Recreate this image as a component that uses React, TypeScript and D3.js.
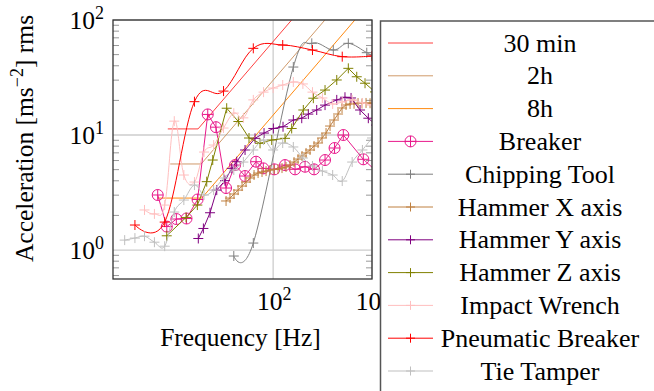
import React from 'react';
import * as d3 from 'd3';

// Plot frame (pixels)
const PL = 113, PR = 372, PT = 20, PB = 279;

// Exposure limit curves
const freq30min = [8.6, 17.4, 200];
const accel30min = [11.3, 11.3, 130];
const freq2h = [9.1, 18.7, 400];
const accel2h = [5.6, 5.6, 119.8];
const freq8h = [6.7, 19.0, 800];
const accel8h = [2.83, 2.83, 119.2];

// Measured tool spectra
const breakerFreq = [6.8, 8.4, 10.5, 13.3, 17.2, 21.8, 26.4, 33.4, 41.2, 52.0, 67.2, 79.6, 102.8, 131.9, 166.6, 210.3, 259.4, 335, 418, 513, 817, 1250];
const breakerAccel = [3.01, 1.6, 1.86, 1.88, 2.75, 15.1, 11.7, 3.46, 5.48, 4.4, 5.86, 5.13, 5.03, 5.48, 5.03, 5.3, 5.03, 6.06, 7.71, 10.0, 6.15, 4.4];

const chippingFreq = [40, 63, 160, 246, 406, 576, 885, 1100];
const chippingAccel = [0.887, 1.15, 39.0, 62.7, 54.8, 62.7, 52.0, 46.7];

const hammerXFreq = [33.4, 36.6, 40.2, 44.2, 48.5, 53.2, 58.4, 64.1, 70.4, 77.2, 84.8, 93.0, 102.1, 112.1, 123.0, 135.0, 148.2, 162.7, 178.6, 196.0, 215.2, 236.2, 259.3, 284.6, 312.4, 342.9, 376.4, 413.0, 453.5, 497.7, 546.3, 599.8, 658.1, 722.4, 793.0, 870.4, 955.4, 1048.6];
const hammerXAccel = [2.67, 2.83, 3.07, 3.32, 3.6, 3.9, 4.23, 4.49, 4.67, 4.77, 4.86, 4.96, 5.01, 5.06, 5.16, 5.27, 5.48, 5.82, 6.18, 6.57, 6.98, 7.41, 8.02, 8.52, 9.42, 10.41, 11.97, 13.5, 15.23, 17.17, 18.24, 18.61, 18.7, 18.98, 18.8, 19.0, 18.9, 18.98];

const hammerYFreq = [17.5, 19.7, 23.0, 26.9, 32.6, 38.1, 42.8, 52.0, 65.6, 80.9, 100.5, 125.9, 160.1, 194.7, 227, 276, 335, 440, 533, 614, 757, 918, 1099];
const hammerYAccel = [1.26, 1.54, 2.11, 3.32, 4.01, 5.13, 5.86, 7.41, 9.36, 10.4, 11.4, 11.8, 13.5, 14.0, 15.2, 16.5, 18.2, 20.2, 21.3, 21.0, 16.5, 14.0, 12.2];

const hammerZFreq = [8.39, 13.15, 17.12, 21.3, 24.5, 33.9, 44.5, 57.0, 73.7, 96.8, 132, 154, 202, 255, 335, 440, 576, 701, 850, 1073];
const hammerZAccel = [1.33, 1.92, 2.46, 3.93, 6.06, 17.1, 13.1, 9.42, 8.47, 9.05, 9.36, 11.4, 16.5, 20.9, 24.6, 30.1, 38.0, 32.1, 28.2, 23.7];

const impactFreq = [5, 6.3, 8, 10, 12.5, 16, 20, 25, 31.5, 40, 50, 63, 80, 100, 125, 160, 200, 250, 315, 400, 500, 630, 800, 1000];
const impactAccel = [2.23, 2.06, 2.46, 13.2, 4.49, 3.9, 7.11, 8.18, 11.5, 15.5, 14.1, 20.2, 23.6, 25.6, 27.2, 28.9, 27.8, 23.6, 21.0, 18.6, 19.4, 20.2, 19.0, 18.2];

const pneumaticFreq = [4, 8, 16, 31.5, 63, 125, 250, 500, 1000];
const pneumaticAccel = [1.65, 1.75, 19.5, 24.1, 56.7, 60.6, 54.8, 48.0, 48.6];

const tieFreq = [3.15, 4, 5, 6.3, 8, 10, 12.5, 16, 20, 25, 31.5, 40, 50, 63, 80, 100, 125, 160, 200, 250, 315, 400, 500, 630, 800, 1000];
const tieAccel = [1.22, 1.27, 1.32, 1.17, 1.08, 2.14, 2.72, 3.67, 3.01, 3.32, 4.23, 4.96, 5.82, 7.41, 9.05, 7.41, 8.52, 7.87, 6.31, 5.38, 4.86, 4.49, 3.98, 5.82, 7.41, 9.42];

// Axis ticks
const xTickValues = [100, 1000];
const xTickExponents = ['2', '3'];
const yTickValues = [1, 10, 100];
const yTickExponents = ['0', '1', '2'];
const yMinorTicks = [0.6, 0.7, 0.8, 0.9, 2, 3, 4, 5, 6, 7, 8, 9, 20, 30, 40, 50, 60, 70, 80, 90];

type Marker = 'none' | 'plus' | 'oplus';
interface Series {
  name: string;
  freq: number[];
  accel: number[];
  color: string;
  marker: Marker;
  smooth: boolean;
}

const series: Series[] = [
  { name: '30 min', freq: freq30min, accel: accel30min, color: '#ff4040', marker: 'none', smooth: false },
  { name: '2h', freq: freq2h, accel: accel2h, color: '#d09a6a', marker: 'none', smooth: false },
  { name: '8h', freq: freq8h, accel: accel8h, color: '#ff8a10', marker: 'none', smooth: false },
  { name: 'Breaker', freq: breakerFreq, accel: breakerAccel, color: '#e8198b', marker: 'oplus', smooth: false },
  { name: 'Chipping Tool', freq: chippingFreq, accel: chippingAccel, color: '#808080', marker: 'plus', smooth: true },
  { name: 'Hammer X axis', freq: hammerXFreq, accel: hammerXAccel, color: '#bf8040', marker: 'plus', smooth: false },
  { name: 'Hammer Y axis', freq: hammerYFreq, accel: hammerYAccel, color: '#7f007f', marker: 'plus', smooth: false },
  { name: 'Hammer Z axis', freq: hammerZFreq, accel: hammerZAccel, color: '#808000', marker: 'plus', smooth: false },
  { name: 'Impact Wrench', freq: impactFreq, accel: impactAccel, color: '#ffbfbf', marker: 'plus', smooth: true },
  { name: 'Pneumatic Breaker', freq: pneumaticFreq, accel: pneumaticAccel, color: '#ff0000', marker: 'plus', smooth: true },
  { name: 'Tie Tamper', freq: tieFreq, accel: tieAccel, color: '#bfbfbf', marker: 'plus', smooth: true },
];

const SERIF = '"Liberation Serif", "DejaVu Serif", "Times New Roman", Times, serif';

function markerPath(cx: number, cy: number, r: number): string {
  return `M${cx - r},${cy}H${cx + r}M${cx},${cy - r}V${cy + r}`;
}

function MarkerGlyph({ type, cx, cy, color, size }: { type: Marker; cx: number; cy: number; color: string; size: number }) {
  if (type === 'plus') {
    return <path d={markerPath(cx, cy, size)} stroke={color} strokeWidth={1} fill="none" />;
  }
  if (type === 'oplus') {
    return (
      <g stroke={color} strokeWidth={1} fill="none">
        <circle cx={cx} cy={cy} r={size} />
        <path d={markerPath(cx, cy, size)} />
      </g>
    );
  }
  return null;
}

export default function App() {
  const x = d3.scaleLog().domain([2.4, 1000]).range([PL, PR]);
  const y = d3.scaleLog().domain([0.56, 100]).range([PB, PT]);

  const makeLine = (smooth: boolean) =>
    d3
      .line<[number, number]>()
      .x((d) => x(d[0]))
      .y((d) => y(d[1]))
      .curve(smooth ? d3.curveCardinal.tension(-0.1) : d3.curveLinear);

  const legendTop = 43;
  const legendStep = 32.8;
  const txt = { fontFamily: SERIF };

  return (
    <svg
      width={654}
      height={391}
      style={{ position: 'absolute', left: 0, top: 0, background: '#fff', fontFamily: SERIF }}
    >
      <defs>
        <clipPath id="plotArea">
          <rect x={PL} y={PT} width={PR - PL} height={PB - PT} />
        </clipPath>
      </defs>

      {/* major grid */}
      <g stroke="#cccccc" strokeWidth={1.3}>
        {xTickValues.map((v) => (
          <line key={'gx' + v} x1={x(v)} x2={x(v)} y1={PT} y2={PB} />
        ))}
        {yTickValues.map((v) => (
          <line key={'gy' + v} x1={PL} x2={PR} y1={y(v)} y2={y(v)} />
        ))}
      </g>

      {/* minor ticks on both vertical edges */}
      <g stroke="#999" strokeWidth={1}>
        {yMinorTicks.map((v) => (
          <g key={'mt' + v}>
            <line x1={PL} x2={PL + 6} y1={y(v)} y2={y(v)} />
            <line x1={PR - 6} x2={PR} y1={y(v)} y2={y(v)} />
          </g>
        ))}
      </g>

      {/* data */}
      <g clipPath="url(#plotArea)">
        {series.map((s) => {
          const pts: [number, number][] = s.freq.map((f, i) => [f, s.accel[i]]);
          return (
            <g key={s.name}>
              <path d={makeLine(s.smooth)(pts) || ''} fill="none" stroke={s.color} strokeWidth={1} />
              {s.marker !== 'none' &&
                pts.map((p, i) => (
                  <MarkerGlyph
                    key={i}
                    type={s.marker}
                    cx={x(p[0])}
                    cy={y(p[1])}
                    color={s.color}
                    size={s.marker === 'oplus' ? 5.5 : 5}
                  />
                ))}
            </g>
          );
        })}
      </g>

      {/* frame */}
      <rect x={PL} y={PT} width={PR - PL} height={PB - PT} fill="none" stroke="#333" strokeWidth={1.3} />

      {/* tick labels */}
      <g fontSize={25.5} fill="#000" style={txt}>
        {yTickValues.map((v, i) => (
          <text key={'yl' + v} x={PL - 9} y={y(v) + 8.5} textAnchor="end">
            10
            <tspan fontSize={18} dy={-10}>
              {yTickExponents[i]}
            </tspan>
          </text>
        ))}
        {xTickValues.map((v, i) => (
          <text key={'xl' + v} x={x(v) + 1} y={310} textAnchor="middle">
            10
            <tspan fontSize={18} dy={-10}>
              {xTickExponents[i]}
            </tspan>
          </text>
        ))}
      </g>

      {/* axis titles */}
      <text x={240.5} y={346} fontSize={25.5} textAnchor="middle" style={txt}>
        Frequency [Hz]
      </text>
      <text transform="translate(33,138.5) rotate(-90)" fontSize={25.5} textAnchor="middle" style={txt}>
        Acceleration [ms
        <tspan fontSize={18} dy={-10}>−2</tspan>
        <tspan dy={10}>] rms</tspan>
      </text>

      {/* legend */}
      <rect x={380.5} y={21} width={320} height={420} fill="#fff" stroke="#555" strokeWidth={1.5} />
      {series.map((s, i) => {
        const cy = legendTop + i * legendStep;
        return (
          <g key={'lg' + s.name}>
            <line x1={388} x2={433} y1={cy} y2={cy} stroke={s.color} strokeWidth={1} />
            <MarkerGlyph type={s.marker} cx={410.5} cy={cy} color={s.color} size={s.marker === 'oplus' ? 5.5 : 4.5} />
            <text x={540} y={cy} fontSize={26} textAnchor="middle" dominantBaseline="central" style={txt}>
              {s.name}
            </text>
          </g>
        );
      })}
    </svg>
  );
}
